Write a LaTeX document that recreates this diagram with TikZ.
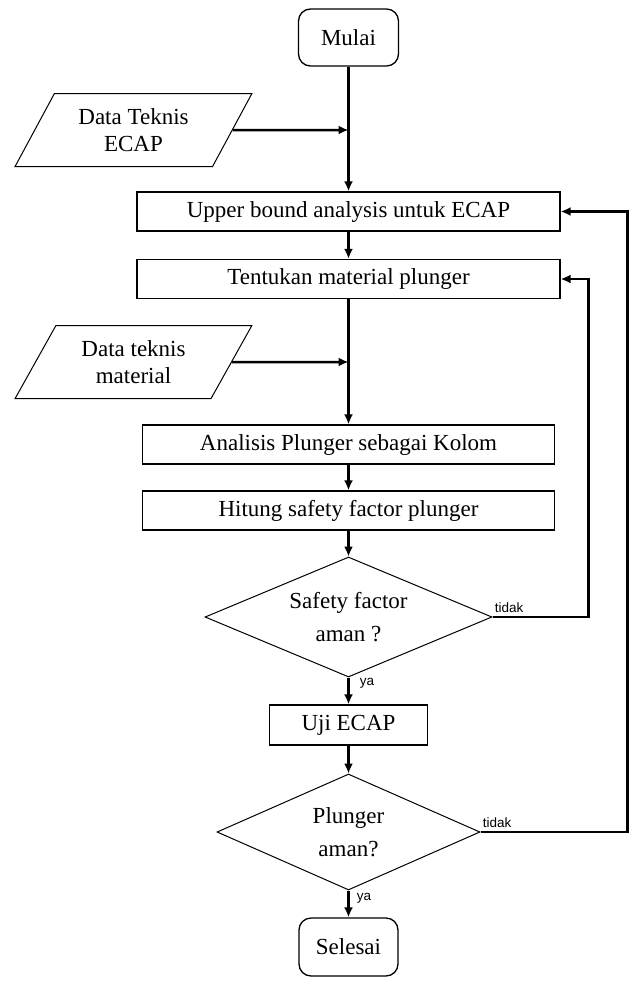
\documentclass[tikz,border=0pt]{standalone}
\usepackage{fontspec}
\setmainfont{Liberation Serif}
\newfontfamily\lblfont{Liberation Sans}
\usetikzlibrary{arrows,arrows.meta,positioning,shapes.geometric}

\begin{document}
\begin{tikzpicture}[>={Latex[length=10pt,width=9pt]},
	every node/.style={font=\fontsize{23}{33}\selectfont},
	terminal/.style={draw,line width=1.3pt,rounded corners=12pt,minimum width=100pt,minimum height=57pt,inner sep=0pt},
	process/.style={draw,line width=1.3pt,minimum height=39pt,inner sep=0pt},
	decision/.style={draw,diamond,shape aspect=2.4,line width=1pt,align=center,inner sep=0pt},
	io/.style={draw,trapezium,trapezium left angle=57.6,trapezium right angle=122.4,trapezium stretches=true,line width=1pt,minimum width=237pt,minimum height=73pt,align=center,inner sep=0pt,font=\fontsize{23}{27}\selectfont},
	flow/.style={->,line width=2.5pt},
	lbl/.style={font=\lblfont\fontsize{13.5}{15}\selectfont,inner sep=1pt}]
\useasboundingbox (0,0) rectangle (631pt,-983pt);

\node[terminal] (mulai) at (348.5pt,-37.5pt) {Mulai};
\node[process,minimum width=423pt] (upper)[below of=mulai,node distance=174pt] {Upper bound analysis untuk ECAP};
\node[process,minimum width=423pt] (tentukan)[below of=upper,node distance=67.5pt] {Tentukan material plunger};
\node[process,minimum width=412pt] (analisis)[below of=tentukan,node distance=165.5pt] {Analisis Plunger sebagai Kolom};
\node[process,minimum width=412pt] (hitung)[below of=analisis,node distance=66pt] {Hitung safety factor plunger};
\node[decision,minimum width=287pt,minimum height=120pt] (safety)[below of=hitung,node distance=106.5pt] {Safety factor\\aman ?};
\node[process,minimum width=158pt,minimum height=40pt] (uji)[below of=safety,node distance=108pt] {Uji ECAP};
\node[decision,minimum width=263pt,minimum height=116pt] (plunger)[below of=uji,node distance=107pt] {Plunger\\aman?};
\node[terminal,minimum width=99pt,minimum height=58pt] (selesai)[below of=plunger,node distance=115pt] {Selesai};

% input data
\coordinate[below of=mulai,node distance=92.5pt] (j1);
\coordinate[below of=tentukan,node distance=83pt] (j2);
\node[io] (dte)[left of=j1,node distance=215pt] {Data Teknis\\ECAP};
\node[io] (dtm)[left of=j2,node distance=215pt] {Data teknis\\material};

\path[flow]	(mulai) edge (upper)
			(upper) edge (tentukan)
			(tentukan) edge (analisis)
			(analisis) edge (hitung)
			(hitung) edge (safety)
			(uji) edge (plunger)
			(dte.east) edge (j1)
			(dtm.east) edge (j2)
;;
\draw[flow] (safety) -- node[lbl,pos=0.2,anchor=west,xshift=9pt] {ya} (uji);
\draw[flow] (plunger) -- node[lbl,pos=0.3,anchor=west,xshift=6pt] {ya} (selesai);

% loops back
\draw[flow] (safety.east) -- node[lbl,pos=0,anchor=south west,yshift=2pt] {tidak} ++(96pt,0) |- (tentukan.east);
\draw[flow] (plunger.east) -- node[lbl,pos=0,anchor=south west,yshift=2pt] {tidak} ++(147pt,0) |- (upper.east);
\end{tikzpicture}
\end{document}
